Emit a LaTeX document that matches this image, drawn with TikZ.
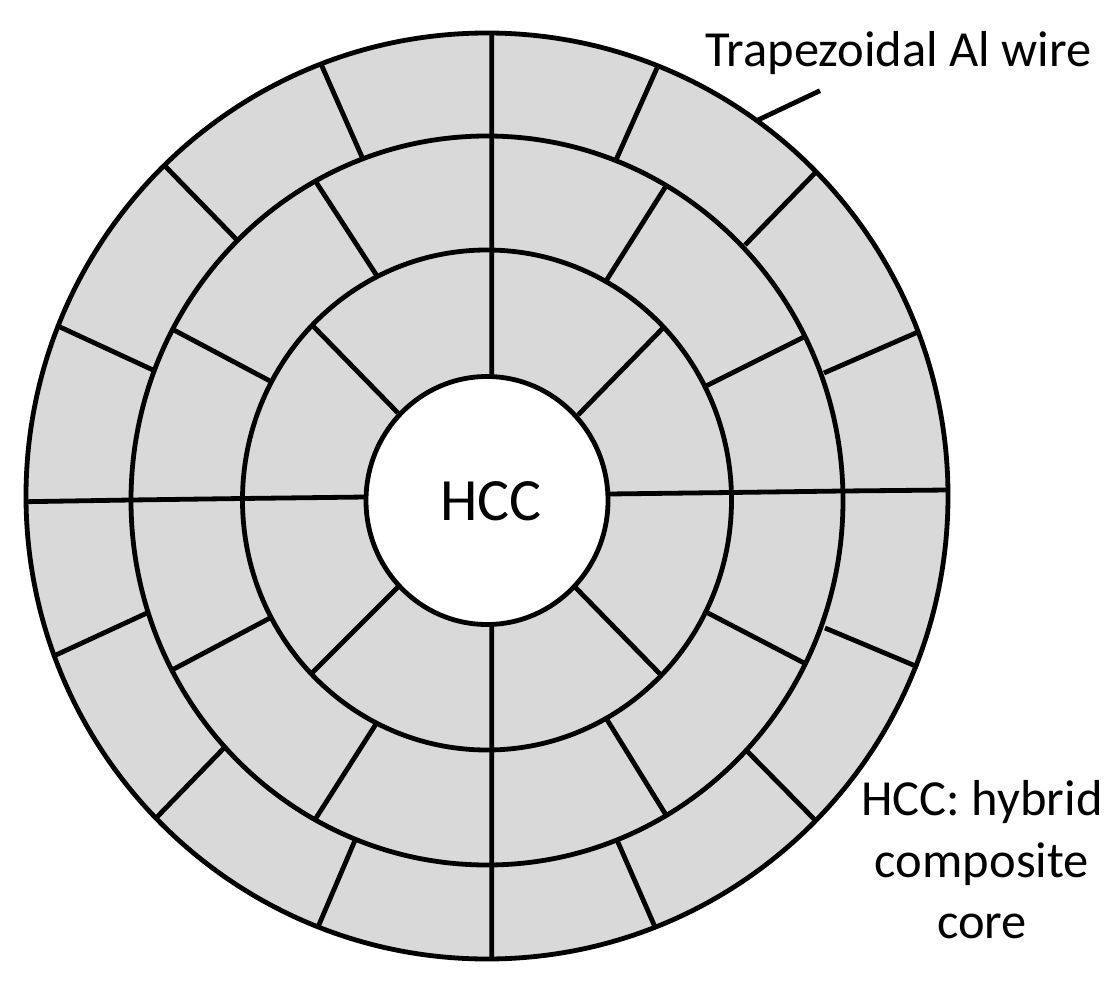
\documentclass[tikz,border=0pt]{standalone}
\usepackage{fontspec}
\setmainfont{Carlito}
\usepackage{tikz}
\begin{document}
\begin{tikzpicture}[x=0.01cm,y=-0.01cm,
        ring/.style={draw,line width=0.048cm},
        spoke/.style={draw,line width=0.048cm},
        caption/.style={font=\fontsize{0.505cm}{0.615cm}\selectfont,align=center,inner sep=0}]
      \useasboundingbox (0,0) rectangle (1118,991);

      % rings, largest first
      \path [ring,fill=black!15] (487,496) ellipse [x radius=461,y radius=463];
      \path [ring] (487,500.5) ellipse [x radius=356,y radius=364.5];
      \path [ring] (487,500) ellipse [x radius=244.5,y radius=250];
      \path [ring,fill=white] (487,500.5) ellipse [x radius=121,y radius=124];

      % inner ring
      \path [spoke] (491.7,376) -- (491.7,250)
                    (578,415) -- (664,327)
                    (609,494) -- (731,492.5)
                    (575,587) -- (661,675)
                    (491.7,625) -- (491.7,750)
                    (398,587) -- (312,673)
                    (366,497) -- (242,498.5)
                    (398,413) -- (313,326);
      % middle ring
      \path [spoke] (491.7,250) -- (491.7,136)
                    (606,281) -- (666,186)
                    (706,386) -- (806,336)
                    (731,492.5) -- (843,491)
                    (706,612) -- (806,664)
                    (606,718) -- (666,815)
                    (491.7,750) -- (491.7,865)
                    (376,724) -- (316,818)
                    (270,618) -- (172,670)
                    (242,498.5) -- (131,500)
                    (270,381) -- (172,329)
                    (377,276) -- (316,182);
      % outer ring
      \path [spoke] (491.7,136) -- (491.7,34)
                    (616,160) -- (657,68)
                    (745,245) -- (815,173)
                    (824,373) -- (918,332)
                    (843,491) -- (948,490)
                    (825,628) -- (918,667)
                    (746,750) -- (815,820)
                    (617,840) -- (655,927)
                    (491.7,865) -- (491.7,959)
                    (356,838) -- (318,927)
                    (224,748) -- (157,817)
                    (147,613) -- (56,655)
                    (131,500) -- (26,501.7)
                    (153,370) -- (60,327)
                    (237,240) -- (165,166)
                    (362,157) -- (321,64);

      \node [caption,font=\fontsize{0.6cm}{0.6cm}\selectfont] (core) at (491,501) {HCC};
      \node [caption] (wire) at (898.5,53) {Trapezoidal Al wire};
      \node [caption] (note) at (982,860) {HCC: hybrid\\composite\\core};

      \coordinate (wireend) at (820,90.7);
      \coordinate (rim) at (758,120);
      \draw [line width=0.048cm] (rim) -- (wireend);
      \end{tikzpicture}
\end{document}
